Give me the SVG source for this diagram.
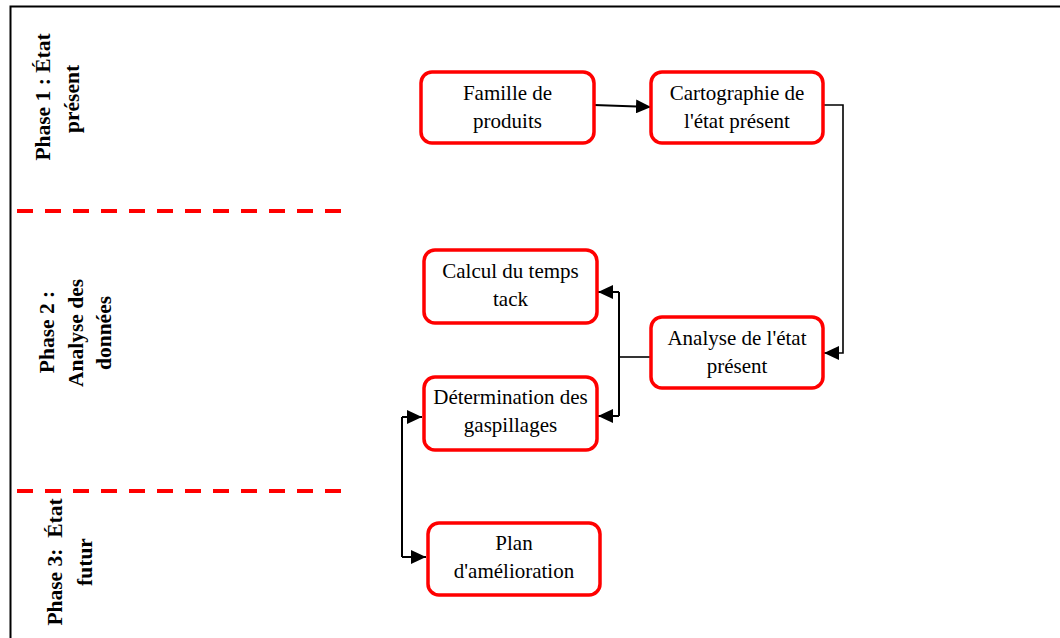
<svg xmlns="http://www.w3.org/2000/svg" width="1060" height="638" viewBox="0 0 1060 638">
  <style>
    .frame { fill: none; stroke: #000; stroke-width: 2; }
    .sep { stroke: #ff0000; stroke-width: 4; stroke-dasharray: 16 12; }
    .phase { font-family: "Liberation Serif", "Times New Roman", serif; font-weight: bold; font-size: 21.5px; fill: #000; text-anchor: middle; white-space: pre; }
    .box { fill: #fff; stroke: #ff0000; stroke-width: 3.5; }
    .label { font-family: "Liberation Serif", "Times New Roman", serif; font-size: 21px; fill: #000; text-anchor: middle; }
    .link { fill: none; stroke: #000; stroke-width: 2; }
    .thin { fill: none; stroke: #000; stroke-width: 1.6; }
  </style>
  <defs>
    <marker id="arrow" viewBox="0 0 15 14" refX="15" refY="7" markerWidth="15" markerHeight="14" markerUnits="userSpaceOnUse" orient="auto-start-reverse">
      <path d="M0,0 L15,7 L0,14 Z" fill="#000"/>
    </marker>
  </defs>

  <rect width="1060" height="638" fill="#fff"/>

  <!-- outer frame: top and left edges only -->
  <path class="frame" d="M10.5,638 V6.5 H1060"/>

  <!-- phase separators -->
  <line class="sep" x1="17" y1="211" x2="342" y2="211"/>
  <line class="sep" x1="17" y1="491" x2="342" y2="491"/>

  <!-- phase titles, rotated -->
  <g id="phase1">
    <text class="phase" transform="translate(50,97) rotate(-90)">Phase 1 : État</text>
    <text class="phase" transform="translate(79,99) rotate(-90)">présent</text>
  </g>
  <g id="phase2">
    <text class="phase" transform="translate(54,332) rotate(-90)">Phase 2 :</text>
    <text class="phase" transform="translate(83,333) rotate(-90)">Analyse des</text>
    <text class="phase" transform="translate(111,333) rotate(-90)">données</text>
  </g>
  <g id="phase3">
    <text class="phase" transform="translate(62,562) rotate(-90)">Phase 3:  État</text>
    <text class="phase" transform="translate(92,562) rotate(-90)">futur</text>
  </g>

  <!-- connectors -->
  <g id="connectors">
    <line class="link" x1="594" y1="105" x2="651" y2="107" marker-end="url(#arrow)"/>
    <polyline class="thin" points="823,105 843,105 843,353 824,353" marker-end="url(#arrow)"/>
    <line class="thin" x1="651" y1="357" x2="619" y2="357"/>
    <polyline class="link" points="619,292 619,416"/>
    <line class="link" x1="619" y1="292" x2="598" y2="292" marker-end="url(#arrow)"/>
    <line class="link" x1="619" y1="416" x2="598" y2="416" marker-end="url(#arrow)"/>
    <polyline class="link" points="402,417 402,557"/>
    <line class="link" x1="402" y1="417" x2="422" y2="417" marker-end="url(#arrow)"/>
    <line class="link" x1="402" y1="557" x2="426" y2="557" marker-end="url(#arrow)"/>
  </g>

  <!-- process steps -->
  <g id="famille">
    <rect class="box" x="421" y="72" width="173" height="71" rx="11"/>
    <text class="label" x="507.5" y="100">Famille de</text>
    <text class="label" x="507.5" y="128">produits</text>
  </g>
  <g id="cartographie">
    <rect class="box" x="651" y="72" width="172" height="71" rx="11"/>
    <text class="label" x="737" y="100">Cartographie de</text>
    <text class="label" x="737" y="128">l'état présent</text>
  </g>
  <g id="calcul">
    <rect class="box" x="424" y="250" width="173" height="73" rx="11"/>
    <text class="label" x="510.5" y="278">Calcul du temps</text>
    <text class="label" x="510.5" y="306">tack</text>
  </g>
  <g id="analyse">
    <rect class="box" x="651" y="317" width="172" height="71" rx="11"/>
    <text class="label" x="737" y="345">Analyse de l'état</text>
    <text class="label" x="737" y="373">présent</text>
  </g>
  <g id="determination">
    <rect class="box" x="424" y="377" width="173" height="73" rx="11"/>
    <text class="label" x="510.5" y="404">Détermination des</text>
    <text class="label" x="510.5" y="432">gaspillages</text>
  </g>
  <g id="plan">
    <rect class="box" x="428" y="523" width="172" height="72" rx="11"/>
    <text class="label" x="514" y="550">Plan</text>
    <text class="label" x="514" y="578">d'amélioration</text>
  </g>
</svg>
